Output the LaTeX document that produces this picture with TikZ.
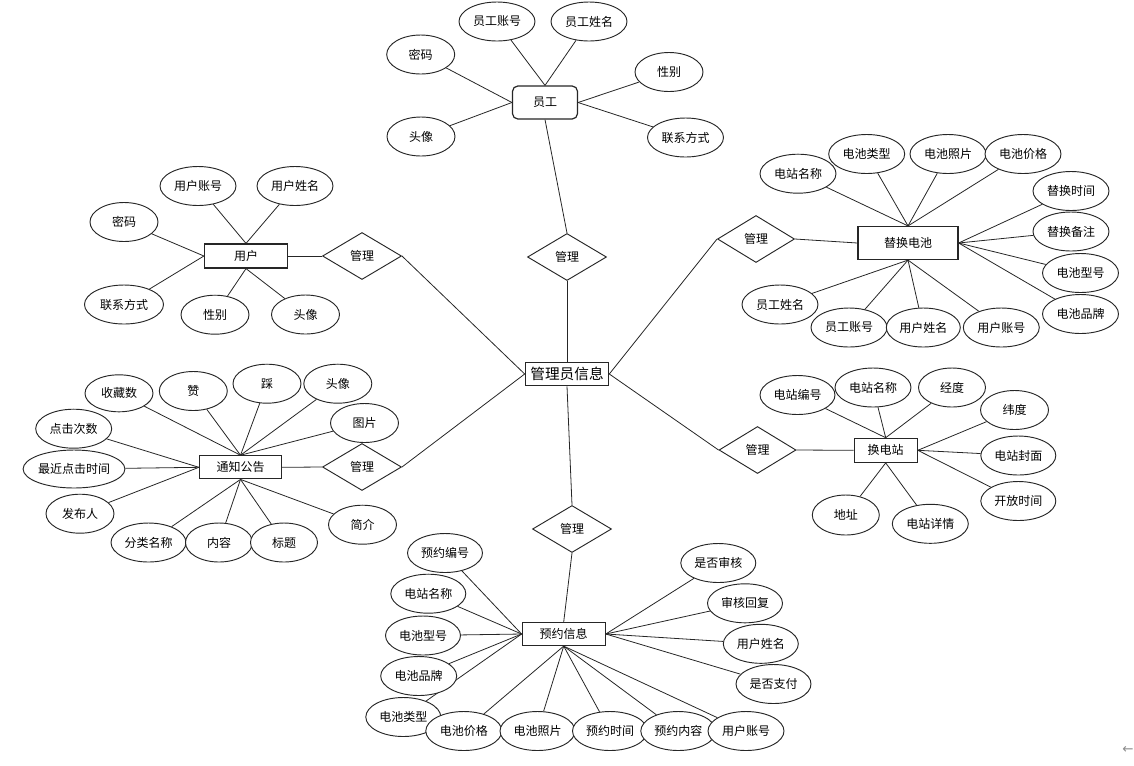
\documentclass[tikz,border=0pt]{standalone}
\usepackage{fontspec}
\newfontfamily\cjk{Noto Sans CJK SC}
\newfontfamily\dejavu{DejaVu Sans}
\usetikzlibrary{shapes.geometric,backgrounds}
\tikzset{
  ent/.style 2 args={draw=black!85, rectangle, line width=0.9pt, inner sep=0pt, fill=white,
    minimum width=#1*0.75pt, minimum height=#2*0.75pt, font=\cjk\fontsize{9pt}{10pt}\selectfont},
  attr/.style={draw=black!85, ellipse, line width=0.7pt, inner sep=0pt, fill=white,
    minimum width=#1*0.75pt, minimum height=39*0.75pt, font=\cjk\fontsize{9pt}{10pt}\selectfont},
  attr/.default=76,
  rel/.style={draw=black!85, diamond, line width=0.7pt, inner sep=0pt, fill=white,
    minimum width=79*0.75pt, minimum height=47*0.75pt, font=\cjk\fontsize{9pt}{10pt}\selectfont},
  ln/.style={line width=0.6pt, draw=black!85}
}
\begin{document}
\begin{tikzpicture}[x=0.75pt,y=-0.75pt]
\useasboundingbox (0,0) rectangle (1134,765);
% central
\node[ent={83}{23}, line width=1.2pt, font=\cjk\fontsize{11pt}{12pt}\selectfont] (M) at (567,374) {管理员信息};
% relations
\node[rel] (dT) at (567,257) {管理};
\node[rel] (dB) at (572,529) {管理};
\node[rel, minimum width=77*0.75pt] (dR1) at (756,239) {管理};
\node[rel, minimum width=77*0.75pt] (dR2) at (757.5,450) {管理};
\node[rel] (dL1) at (362,256) {管理};
\node[rel] (dL2) at (362,467) {管理};
% 员工
\node[ent={65}{33}, rounded corners=4pt] (yg) at (545,102.5) {员工};
\node[attr] (yg1) at (497,21.5) {员工账号};
\node[attr] (yg2) at (589,21.5) {员工姓名};
\node[attr=68] (yg3) at (420.7,54.5) {密码};
\node[attr=68] (yg4) at (421,136.5) {头像};
\node[attr=68] (yg5) at (669,72) {性别};
\node[attr] (yg6) at (685.5,137.5) {联系方式};
% 替换电池
\node[ent={100}{33}] (th) at (908,243) {替换电池};
\node[attr] (th1) at (798,173.7) {电站名称};
\node[attr] (th2) at (866.7,154) {电池类型};
\node[attr] (th3) at (948,154) {电池照片};
\node[attr] (th4) at (1023,154) {电池价格};
\node[attr] (th5) at (1071,191) {替换时间};
\node[attr] (th6) at (1071,231.5) {替换备注};
\node[attr] (th7) at (1080.5,273) {电池型号};
\node[attr] (th8) at (1080.5,314) {电池品牌};
\node[attr] (th9) at (780,304.5) {员工姓名};
\node[attr] (th10) at (849,327.5) {员工账号};
\node[attr=74] (th11) at (923.3,327.5) {用户姓名};
\node[attr] (th12) at (1001.3,327.5) {用户账号};
% 用户
\node[ent={83}{24}] (yh) at (246,256) {用户};
\node[attr] (yh1) at (198,186) {用户账号};
\node[attr] (yh2) at (295,186) {用户姓名};
\node[attr=68] (yh3) at (124,222) {密码};
\node[attr=79] (yh4) at (124,304.5) {联系方式};
\node[attr=68] (yh5) at (215,314.7) {性别};
\node[attr=68] (yh6) at (305.5,314.5) {头像};
% 通知公告
\node[ent={82}{23}] (tz) at (240.5,467.3) {通知公告};
\node[attr=68, minimum height=37*0.75pt] (tz1) at (119,393.3) {收藏数};
\node[attr=68] (tz2) at (193.3,391) {赞};
\node[attr=68] (tz3) at (267,383.7) {踩};
\node[attr=68] (tz4) at (337.8,383.7) {头像};
\node[attr=68] (tz5) at (364.5,423) {图片};
\node[attr] (tz6) at (73.7,428.7) {点击次数};
\node[attr=100, minimum height=38*0.75pt] (tz7) at (74,469) {最近点击时间};
\node[attr=68] (tz8) at (80,513.7) {发布人};
\node[attr=75] (tz9) at (148.5,542.5) {分类名称};
\node[attr=67] (tz10) at (219,542.5) {内容};
\node[attr=67] (tz11) at (284,542.5) {标题};
\node[attr=68] (tz12) at (362.5,524.7) {简介};
% 换电站
\node[ent={63}{24}] (hz) at (885.7,450.3) {换电站};
\node[attr=75] (hz1) at (797.5,395) {电站编号};
\node[attr] (hz2) at (873,387.5) {电站名称};
\node[attr=67] (hz3) at (952,387.5) {经度};
\node[attr=68] (hz4) at (1014.5,410) {纬度};
\node[attr=75] (hz5) at (1018.3,455.5) {电站封面};
\node[attr=75] (hz6) at (1018.3,501) {开放时间};
\node[attr=67, minimum height=40*0.75pt] (hz7) at (845.8,515) {地址};
\node[attr] (hz8) at (930.3,523.8) {电站详情};
% 预约信息
\node[ent={83}{23}] (yy) at (563.7,634) {预约信息};
\node[attr=75] (yy1) at (445,553) {预约编号};
\node[attr=75] (yy2) at (428.3,593.7) {电站名称};
\node[attr=75] (yy3) at (423,635.5) {电池型号};
\node[attr] (yy4) at (418.7,676) {电池品牌};
\node[attr=75] (yy5) at (403.3,717) {电池类型};
\node[attr] (yy6) at (463.8,731) {电池价格};
\node[attr=75] (yy7) at (537.5,731) {电池照片};
\node[attr=75] (yy8) at (610,731) {预约时间};
\node[attr=75] (yy9) at (678.3,731) {预约内容};
\node[attr] (yy10) at (746,731) {用户账号};
\node[attr=75] (yy11) at (718.3,563) {是否审核};
\node[attr=75] (yy12) at (745,603.3) {审核回复};
\node[attr=75] (yy13) at (760.8,643.8) {用户姓名};
\node[attr=75] (yy14) at (773.5,684) {是否支付};
% corner glyph
\node[text=black!45, inner sep=0pt, font=\dejavu\fontsize{10pt}{11pt}\selectfont] (arr) at (1128,750) {←};
\begin{scope}[on background layer]
% central links
\draw[ln] (yg.south) -- (dT.north);
\draw[ln] (dT.south) -- (M.north);
\draw[ln] (M.east) -- (dR1.west);
\draw[ln] (dR1.east) -- (th.west);
\draw[ln] (M.east) -- (dR2.west);
\draw[ln] (dR2.east) -- (hz.west);
\draw[ln] (M.west) -- (dL1.east);
\draw[ln] (dL1.west) -- (yh.east);
\draw[ln] (M.west) -- (dL2.east);
\draw[ln] (dL2.west) -- (tz.east);
\draw[ln] (M.south) -- (dB.north);
\draw[ln] (dB.south) -- (yy.north);
% 员工
\foreach \i in {1,2} \draw[ln] (yg.north) -- (yg\i);
\foreach \i in {3,4} \draw[ln] (yg.west) -- (yg\i);
\foreach \i in {5,6} \draw[ln] (yg.east) -- (yg\i);
% 替换电池
\foreach \i in {1,2,3,4} \draw[ln] (th.north) -- (th\i);
\foreach \i in {5,6,7,8} \draw[ln] (th.east) -- (th\i);
\foreach \i in {9,10,11,12} \draw[ln] (th.south) -- (th\i);
% 用户
\foreach \i in {1,2} \draw[ln] (yh.north) -- (yh\i);
\foreach \i in {3,4} \draw[ln] (yh.west) -- (yh\i);
\foreach \i in {5,6} \draw[ln] (yh.south) -- (yh\i);
% 通知公告
\foreach \i in {1,2,3,4,5} \draw[ln] (tz.north) -- (tz\i);
\foreach \i in {6,7,8} \draw[ln] (tz.west) -- (tz\i);
\foreach \i in {9,10,11,12} \draw[ln] (tz.south) -- (tz\i);
% 换电站
\foreach \i in {1,2,3} \draw[ln] (hz.north) -- (hz\i);
\foreach \i in {4,5,6} \draw[ln] (hz.east) -- (hz\i);
\foreach \i in {7,8} \draw[ln] (hz.south) -- (hz\i);
% 预约信息
\foreach \i in {1,2,3,4,5} \draw[ln] (yy.west) -- (yy\i);
\foreach \i in {6,7,8,9,10} \draw[ln] (yy.south) -- (yy\i);
\foreach \i in {11,12,13,14} \draw[ln] (yy.east) -- (yy\i);
\end{scope}
\end{tikzpicture}
\end{document}
